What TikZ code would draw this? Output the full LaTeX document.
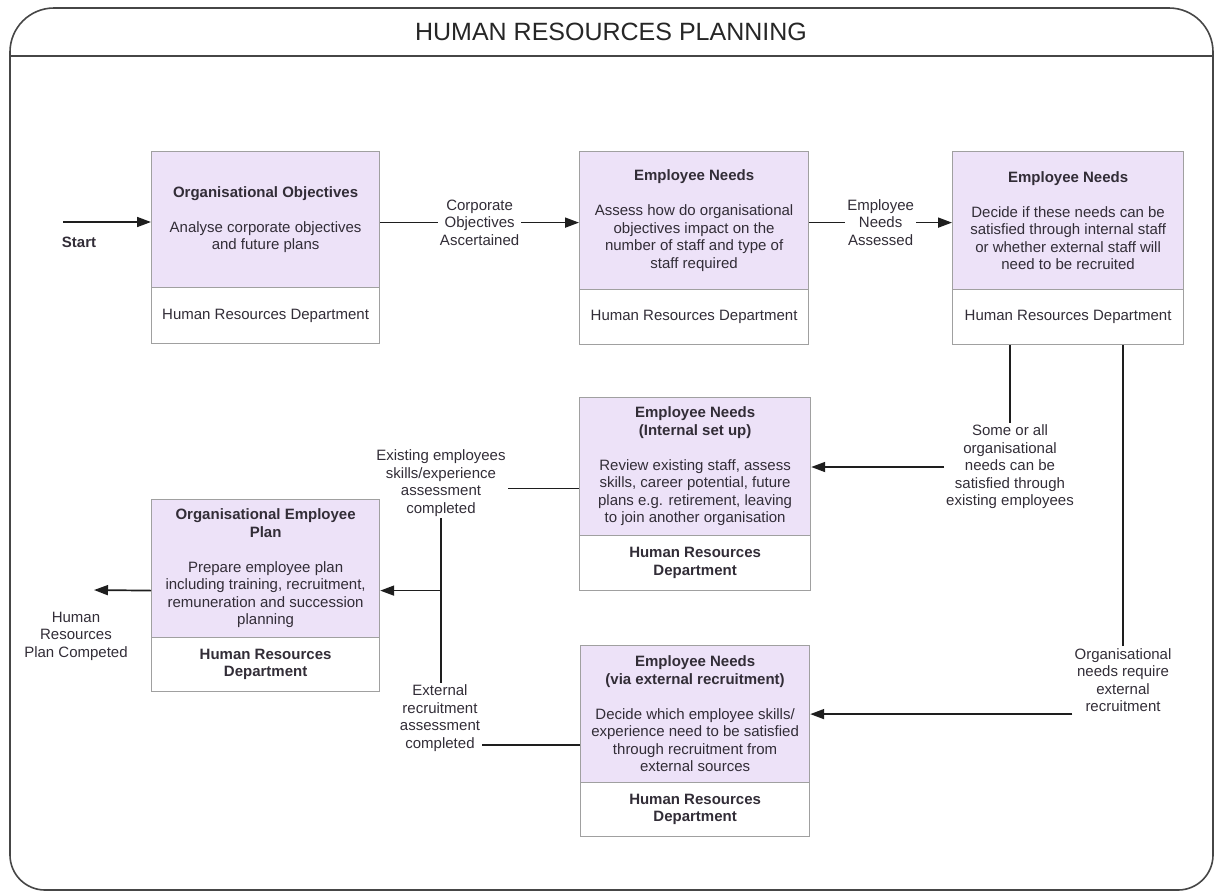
\documentclass[tikz,border=0pt]{standalone}
\usepackage{fontspec}
\setmainfont{Liberation Sans}
\usetikzlibrary{arrows.meta,calc}
\definecolor{lav}{RGB}{237,226,248}
\definecolor{bgray}{RGB}{160,160,160}
\definecolor{txt}{RGB}{50,45,55}
\definecolor{lc}{RGB}{30,30,30}
\definecolor{fr}{RGB}{70,70,70}
\newcommand\boxfont{\fontsize{15}{17.5}\selectfont}
\begin{document}
\begin{tikzpicture}[x=1pt,y=-1pt,
  frame/.style={draw=fr, line width=1.6pt},
  sepline/.style={draw=fr, line width=2pt},
  titlestyle/.style={font=\fontsize{25}{30}\selectfont, text=black!85},
  upbox/.style={draw=bgray, line width=1.2pt, fill=lav, align=center, inner sep=0pt, anchor=north west, font=\boxfont, text=txt},
  lowbox/.style={draw=bgray, line width=1.2pt, fill=white, align=center, inner sep=0pt, anchor=north west, font=\boxfont, text=txt},
  lbl/.style={font=\boxfont, text=txt, align=center, inner sep=2pt},
  lblw/.style={lbl, fill=white},
  ln/.style={draw=lc, line width=1.7pt},
  arr/.style={draw=lc, line width=1.7pt, -{Triangle[length=14pt,width=10pt]}}
]
\useasboundingbox (0,0) rectangle (1218,892);
% frame
\draw[frame, rounded corners=44pt] (10,450) -- (10,8) -- (1213,8) -- (1213,450);
\draw[frame, rounded corners=35pt] (10,449) -- (10,890) -- (1213,890) -- (1213,449);
\draw[sepline] (10,56) -- (1213,56);
\node[titlestyle] (title) at (611,32) {HUMAN RESOURCES PLANNING};

% boxes
\node[upbox, minimum width=228pt, minimum height=136pt] (b1) at (151,151)
  {\textbf{Organisational Objectives}\\[17.5pt]Analyse corporate objectives\\and future plans};
\node[lowbox, minimum width=228pt, minimum height=56pt] (b1d) at (151,287)
  {Human Resources Department};

\node[upbox, minimum width=229pt, minimum height=138pt] (b2) at (579,151)
  {\textbf{Employee Needs}\\[17.5pt]Assess how do organisational\\objectives impact on the\\number of staff and type of\\staff required};
\node[lowbox, minimum width=229pt, minimum height=55pt] (b2d) at (579,289)
  {Human Resources Department};

\node[upbox, minimum width=231pt, minimum height=138pt] (b3) at (952,151)
  {\textbf{Employee Needs}\\[17.5pt]Decide if these needs can be\\satisfied through internal staff\\or whether external staff will\\need to be recruited};
\node[lowbox, minimum width=231pt, minimum height=55pt] (b3d) at (952,289)
  {Human Resources Department};

\node[upbox, minimum width=231pt, minimum height=138pt] (mid) at (579,397)
  {\textbf{Employee Needs}\\\textbf{(Internal set up)}\\[17.5pt]Review existing staff, assess\\skills, career potential, future\\plans e.g. retirement, leaving\\to join another organisation};
\node[lowbox, minimum width=231pt, minimum height=55pt] (midd) at (579,535)
  {\textbf{Human Resources}\\\textbf{Department}};

\node[upbox, minimum width=228pt, minimum height=138pt] (plan) at (151,499)
  {\textbf{Organisational Employee}\\\textbf{Plan}\\[17.5pt]Prepare employee plan\\including training, recruitment,\\remuneration and succession\\planning};
\node[lowbox, minimum width=228pt, minimum height=54pt] (pland) at (151,637)
  {\textbf{Human Resources}\\\textbf{Department}};

\node[upbox, minimum width=229pt, minimum height=137pt] (ext) at (580,645)
  {\textbf{Employee Needs}\\\textbf{(via external recruitment)}\\[17.5pt]Decide which employee skills/\\experience need to be satisfied\\through recruitment from\\external sources};
\node[lowbox, minimum width=229pt, minimum height=54pt] (extd) at (580,782)
  {\textbf{Human Resources}\\\textbf{Department}};

% start
\node[font=\boxfont\bfseries, text=txt] (st) at (79,242) {Start};
\coordinate (s0) at (63,222);
\draw[arr] (s0) -- (s0 -| b1.west);

% top row connectors
\draw[arr] ([yshift=-3pt]b1.east) -- node[lblw] (lab1) {Corporate\\Objectives\\Ascertained} ([yshift=-3pt]b1.east -| b2.west);
\draw[arr] ([yshift=-2pt]b2.east) -- node[lblw] (lab2) {Employee\\Needs\\Assessed} ([yshift=-2pt]b2.east -| b3.west);

% to internal
\node[lbl] (la) at (1010,467) {Some or all\\organisational\\needs can be\\satisfied through\\existing employees};
\draw[ln] (la.north) -- (la.north |- b3d.south);
\draw[arr] (la.west) -- (la.west -| mid.east);

% to external
\node[lbl] (lb) at (1123,680) {Organisational\\needs require\\external\\recruitment};
\draw[ln] (lb.north) -- (lb.north |- b3d.south);
\draw[arr] (lb.west |- ext.east) -- (ext.east);

% to plan
\node[lbl] (lc) at (441,483) {Existing employees\\skills/experience\\assessment\\completed};
\node[lbl] (ld) at (440,718) {External\\recruitment\\assessment\\completed};
\draw[ln] ([yshift=-22pt]mid.west) -- ([yshift=-22pt]mid.west -| lc.east);
\draw[ln] ([yshift=-31pt]ext.west) -- ([yshift=-31pt]ext.west -| ld.east);
\draw[ln] (lc.south) -- (lc.south |- ld.north);
\coordinate (pe) at ([yshift=-22pt]plan.east);
\draw[arr] (lc.south |- pe) -- (pe);

% out
\coordinate (pw) at ([yshift=-22pt]plan.west);
\coordinate (o) at (94,590);
\draw[arr] (pw) -- (o);
\node[lbl] (le) at (76,636) {Human\\Resources\\Plan Competed};
\end{tikzpicture}
\end{document}
